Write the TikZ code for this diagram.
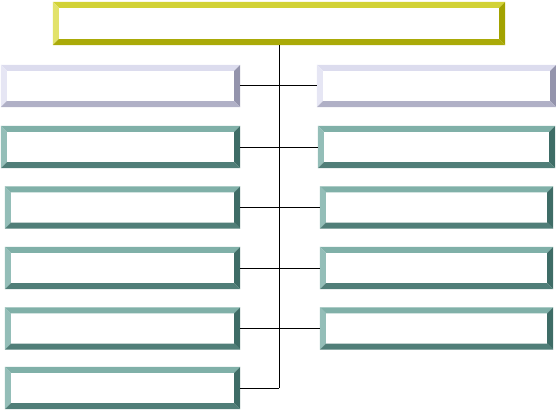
\documentclass[tikz,border=0pt]{standalone}
\usepackage{xcolor}
\usepackage{tikz}

\definecolor{yelT}{HTML}{D2D236}
\definecolor{yelL}{HTML}{E2E26A}
\definecolor{yelR}{HTML}{A2A200}
\definecolor{yelB}{HTML}{AAAA08}
\definecolor{lavT}{HTML}{DCDCEE}
\definecolor{lavL}{HTML}{E6E6F4}
\definecolor{lavR}{HTML}{9494AC}
\definecolor{lavB}{HTML}{B0B0C6}
\definecolor{tealT}{HTML}{80B0A8}
\definecolor{tealL}{HTML}{94BEB8}
\definecolor{tealR}{HTML}{3E6C66}
\definecolor{tealB}{HTML}{507E78}

% bevelled frame round a node: name, top, left, right, bottom colour
\newcommand{\bevel}[5]{%
\fill[#2] (#1.north west) -- (#1.north east) -- ([xshift=-6pt,yshift=-6pt]#1.north east) -- ([xshift=6pt,yshift=-6pt]#1.north west) -- cycle;
\fill[#3] (#1.north west) -- ([xshift=6pt,yshift=-6pt]#1.north west) -- ([xshift=6pt,yshift=6pt]#1.south west) -- (#1.south west) -- cycle;
\fill[#4] (#1.north east) -- ([xshift=-6pt,yshift=-6pt]#1.north east) -- ([xshift=-6pt,yshift=6pt]#1.south east) -- (#1.south east) -- cycle;
\fill[#5] (#1.south west) -- ([xshift=6pt,yshift=6pt]#1.south west) -- ([xshift=-6pt,yshift=6pt]#1.south east) -- (#1.south east) -- cycle;
}

\begin{document}
\begin{tikzpicture}[x=1pt,y=-1pt]
\tikzset{box/.style={rectangle, inner sep=0pt, minimum height=42pt}}
\useasboundingbox (0,0) rectangle (556,409);

\node[box, minimum width=452pt, minimum height=43pt] (head) at (279,23.5) {};
\bevel{head}{yelT}{yelL}{yelR}{yelB}

% left column
\node[box, minimum width=239pt] (l1) at (120.5,86) {};
\node[box, minimum width=239pt] (l2) at (120.5,147) {};
\node[box, minimum width=235pt] (l3) at (122.5,207.5) {};
\node[box, minimum width=235pt] (l4) at (122.5,268) {};
\node[box, minimum width=235pt] (l5) at (122.5,328.5) {};
\node[box, minimum width=235pt] (l6) at (122.5,388) {};

% right column
\node[box, minimum width=239pt] (r1) at (436.5,86) {};
\node[box, minimum width=237pt] (r2) at (436.5,147) {};
\node[box, minimum width=233pt] (r3) at (436.5,207.5) {};
\node[box, minimum width=233pt] (r4) at (436.5,268) {};
\node[box, minimum width=233pt] (r5) at (436.5,328.5) {};

\bevel{l1}{lavT}{lavL}{lavR}{lavB}
\bevel{r1}{lavT}{lavL}{lavR}{lavB}
\foreach \n in {l2,l3,l4,l5,l6,r2,r3,r4,r5}
  \bevel{\n}{tealT}{tealL}{tealR}{tealB};

\coordinate (end) at (head.south |- l6.east);
\draw[line width=1pt] (head.south) -- (end);
\foreach \i in {1,...,5}
  \draw[line width=1pt] (l\i.east) -- (r\i.west);
\draw[line width=1pt] (l6.east) -- (end);
\end{tikzpicture}
\end{document}
